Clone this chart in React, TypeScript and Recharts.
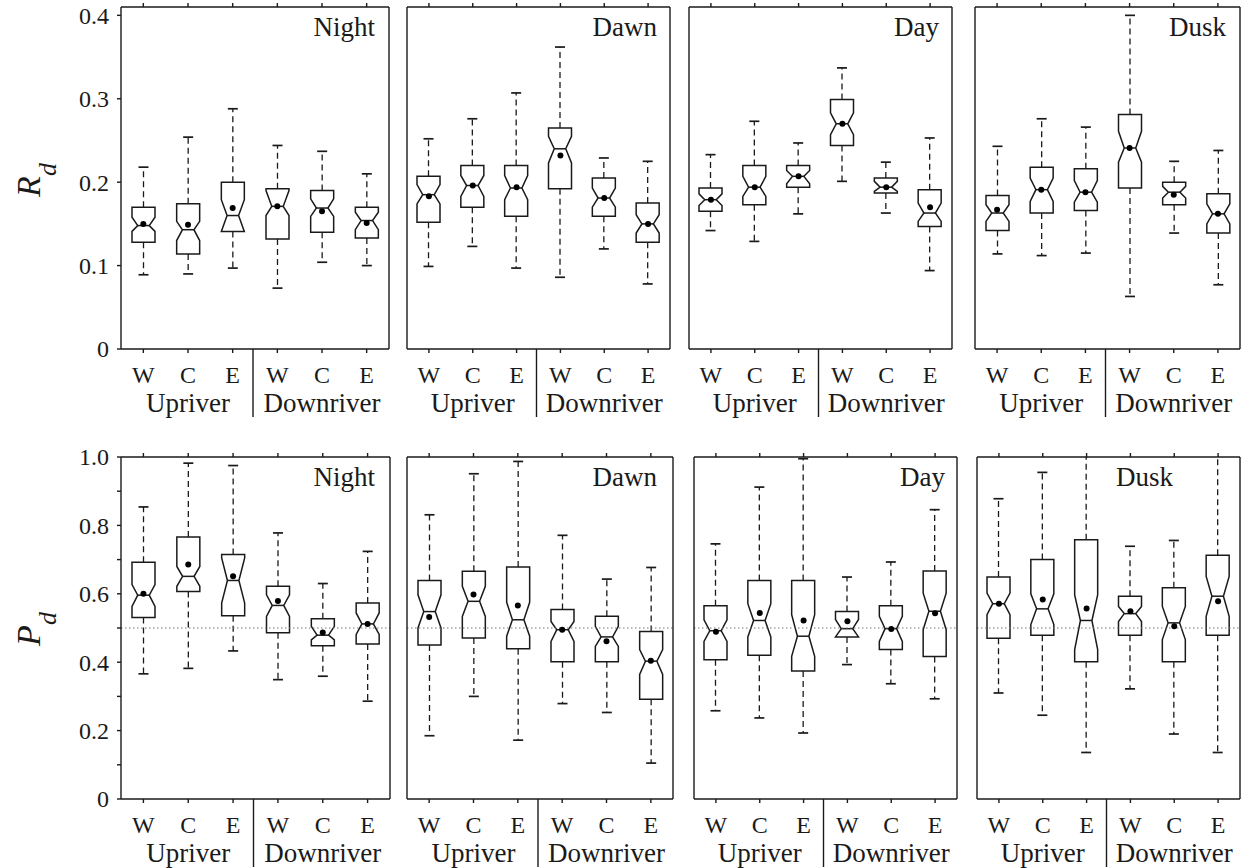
import React from "react";
import { Bar, ComposedChart, ReferenceLine, Scatter, XAxis, YAxis } from "recharts";

const sites = ["W", "C", "E", "W", "C", "E"];
const reaches = ["Upriver", "Upriver", "Upriver", "Downriver", "Downriver", "Downriver"];
const periods = ["Night", "Dawn", "Day", "Dusk"];

// each box: [min, q1, notch low, median, notch high, q3, max, mean]
const rdNight = [
  [0.089, 0.128, 0.141, 0.148, 0.158, 0.17, 0.218, 0.15],
  [0.09, 0.114, 0.13, 0.143, 0.153, 0.174, 0.254, 0.149],
  [0.097, 0.141, 0.141, 0.16, 0.179, 0.2, 0.288, 0.169],
  [0.073, 0.132, 0.16, 0.171, 0.19, 0.192, 0.244, 0.171],
  [0.104, 0.14, 0.159, 0.169, 0.18, 0.19, 0.237, 0.165],
  [0.1, 0.133, 0.143, 0.154, 0.164, 0.17, 0.21, 0.151],
];
const rdDawn = [
  [0.099, 0.152, 0.174, 0.185, 0.197, 0.207, 0.252, 0.183],
  [0.123, 0.17, 0.183, 0.196, 0.208, 0.22, 0.276, 0.196],
  [0.097, 0.159, 0.179, 0.193, 0.208, 0.22, 0.307, 0.194],
  [0.086, 0.192, 0.223, 0.24, 0.255, 0.265, 0.362, 0.232],
  [0.12, 0.159, 0.17, 0.181, 0.193, 0.205, 0.229, 0.181],
  [0.078, 0.128, 0.139, 0.15, 0.161, 0.175, 0.225, 0.15],
];
const rdDay = [
  [0.142, 0.165, 0.172, 0.179, 0.186, 0.193, 0.233, 0.179],
  [0.129, 0.173, 0.183, 0.194, 0.207, 0.22, 0.273, 0.194],
  [0.162, 0.194, 0.198, 0.207, 0.214, 0.22, 0.247, 0.207],
  [0.201, 0.244, 0.257, 0.27, 0.283, 0.299, 0.337, 0.27],
  [0.163, 0.187, 0.189, 0.194, 0.201, 0.205, 0.224, 0.194],
  [0.094, 0.147, 0.153, 0.163, 0.175, 0.191, 0.253, 0.17],
];
const rdDusk = [
  [0.114, 0.142, 0.153, 0.163, 0.173, 0.184, 0.243, 0.167],
  [0.112, 0.163, 0.177, 0.191, 0.205, 0.218, 0.276, 0.191],
  [0.115, 0.166, 0.176, 0.188, 0.202, 0.216, 0.266, 0.188],
  [0.063, 0.193, 0.224, 0.241, 0.261, 0.281, 0.4, 0.241],
  [0.139, 0.173, 0.181, 0.188, 0.195, 0.2, 0.225, 0.185],
  [0.077, 0.139, 0.15, 0.162, 0.174, 0.186, 0.238, 0.162],
];

const pdNight = [
  [0.366, 0.531, 0.563, 0.596, 0.627, 0.692, 0.854, 0.6],
  [0.382, 0.607, 0.622, 0.651, 0.68, 0.766, 0.982, 0.686],
  [0.433, 0.536, 0.573, 0.639, 0.705, 0.715, 0.975, 0.651],
  [0.349, 0.486, 0.534, 0.566, 0.597, 0.622, 0.778, 0.579],
  [0.359, 0.448, 0.465, 0.479, 0.505, 0.527, 0.63, 0.487],
  [0.286, 0.453, 0.481, 0.512, 0.544, 0.573, 0.724, 0.512],
];
const pdDawn = [
  [0.185, 0.45, 0.5, 0.548, 0.597, 0.639, 0.831, 0.532],
  [0.3, 0.471, 0.534, 0.578, 0.622, 0.666, 0.951, 0.598],
  [0.172, 0.439, 0.476, 0.524, 0.575, 0.678, 0.987, 0.566],
  [0.279, 0.401, 0.461, 0.495, 0.519, 0.554, 0.771, 0.495],
  [0.253, 0.401, 0.446, 0.474, 0.505, 0.534, 0.643, 0.461],
  [0.105, 0.292, 0.364, 0.403, 0.437, 0.49, 0.677, 0.404],
];
const pdDay = [
  [0.258, 0.407, 0.461, 0.492, 0.524, 0.565, 0.746, 0.489],
  [0.237, 0.42, 0.474, 0.522, 0.571, 0.639, 0.912, 0.544],
  [0.193, 0.374, 0.417, 0.476, 0.539, 0.639, 0.995, 0.522],
  [0.393, 0.474, 0.474, 0.498, 0.525, 0.548, 0.649, 0.52],
  [0.337, 0.437, 0.461, 0.498, 0.534, 0.565, 0.693, 0.497],
  [0.293, 0.417, 0.495, 0.549, 0.602, 0.667, 0.846, 0.543],
];
const pdDusk = [
  [0.31, 0.47, 0.539, 0.571, 0.602, 0.649, 0.878, 0.571],
  [0.245, 0.479, 0.51, 0.556, 0.6, 0.7, 0.955, 0.583],
  [0.136, 0.401, 0.437, 0.522, 0.597, 0.758, 1.04, 0.557],
  [0.322, 0.479, 0.519, 0.542, 0.563, 0.593, 0.739, 0.549],
  [0.19, 0.401, 0.466, 0.515, 0.563, 0.618, 0.756, 0.505],
  [0.136, 0.479, 0.534, 0.593, 0.651, 0.713, 1.04, 0.578],
];

const rdTicks = [0, 0.1, 0.2, 0.3, 0.4];
const pdTicks = [0, 0.1, 0.2, 0.3, 0.4, 0.5, 0.6, 0.7, 0.8, 0.9, 1.0];
const pdLabelled = [0, 0.2, 0.4, 0.6, 0.8, 1.0];

const FONT = '"Liberation Serif", "Times New Roman", Times, serif';
const INK = "#1a1a1a";
const TICK = 4;
const BOX_W = 23;
const CAP_W = 10;

const rows = [
  {
    stats: [rdNight, rdDawn, rdDay, rdDusk],
    letter: "R",
    domain: [0, 0.41],
    ticks: rdTicks,
    labelled: rdTicks,
    refY: null as number | null,
    plotTop: 7,
    plotBottom: 349,
    chartTop: 0,
    chartBottom: 432,
    titleY: 180,
    cols: [[121, 389], [407, 670], [689, 952], [975, 1240]],
    insets: [14, 13, 13, 14],
  },
  {
    stats: [pdNight, pdDawn, pdDay, pdDusk],
    letter: "P",
    domain: [0, 1],
    ticks: pdTicks,
    labelled: pdLabelled,
    refY: 0.5 as number | null,
    plotTop: 457,
    plotBottom: 799,
    chartTop: 438,
    chartBottom: 868,
    titleY: 629,
    cols: [[121, 390], [407, 673], [694, 957], [977, 1240]],
    insets: [15, 16, 12, 67],
  },
];

const toRows = (stats: number[][]) =>
  stats.map((s, i) => ({
    id: reaches[i][0] + sites[i],
    min: s[0], q1: s[1], nLo: s[2], med: s[3], nHi: s[4], q3: s[5], max: s[6], mean: s[7],
  }));

function makeBoxShape(domainMax: number) {
  return (props: any) => {
    const { x, y, width, height, payload } = props;
    if (!payload || x == null || y == null) return <g />;
    const top = Math.min(y, y + height);
    const bot = Math.max(y, y + height);
    const span = payload.max - payload.min;
    const py = (v: number) => bot - ((v - payload.min) / span) * (bot - top);
    const cx = x + width / 2;
    const l = cx - BOX_W / 2;
    const r = cx + BOX_W / 2;
    const inset = BOX_W / 4;
    const y1 = py(payload.q1);
    const y3 = py(payload.q3);
    const ym = py(payload.med);
    const yH = Math.max(py(payload.nHi), y3);
    const yL = Math.min(py(payload.nLo), y1);
    const yMax = py(Math.min(payload.max, domainMax));
    const yMin = py(payload.min);
    const d = `M${l},${y3}H${r}V${yH}L${r - inset},${ym}L${r},${yL}V${y1}H${l}V${yL}L${l + inset},${ym}L${l},${yH}Z`;
    return (
      <g>
        <line x1={cx} x2={cx} y1={y3} y2={yMax} stroke={INK} strokeWidth={1.3} strokeDasharray="6 4" />
        <line x1={cx} x2={cx} y1={y1} y2={yMin} stroke={INK} strokeWidth={1.3} strokeDasharray="6 4" />
        {payload.max <= domainMax && (
          <line x1={cx - CAP_W / 2} x2={cx + CAP_W / 2} y1={yMax} y2={yMax} stroke={INK} strokeWidth={1.7} />
        )}
        <line x1={cx - CAP_W / 2} x2={cx + CAP_W / 2} y1={yMin} y2={yMin} stroke={INK} strokeWidth={1.7} />
        <path d={d} fill="none" stroke={INK} strokeWidth={1.5} />
        <line x1={l + inset} x2={r - inset} y1={ym} y2={ym} stroke={INK} strokeWidth={1.5} />
      </g>
    );
  };
}

const meanDot = (props: any) =>
  props.cx == null ? <g /> : <circle cx={props.cx} cy={props.cy} r={3} fill="#000" />;

function Panel({ row, col }: { row: (typeof rows)[number]; col: number }) {
  const [pl, pr] = row.cols[col];
  const chartLeft = col === 0 ? 0 : pl - 14;
  const chartRight = col === 3 ? 1244 : pr + 8;
  const width = chartRight - chartLeft;
  const height = row.chartBottom - row.chartTop;
  const margin = {
    left: pl - chartLeft - 1,
    right: chartRight - pr - 1,
    top: row.plotTop - row.chartTop - 1,
    bottom: row.chartBottom - row.plotBottom - 1,
  };
  const data = toRows(row.stats[col]);
  const axisY = row.plotBottom - row.chartTop;
  const topY = row.plotTop - row.chartTop;
  const axisStyle = { stroke: INK, strokeWidth: 1.4 };

  const siteTick = (props: any) => {
    const { x, payload } = props;
    const i = props.index ?? payload?.index ?? 0;
    const half = payload?.offset ?? 22;
    return (
      <g>
        <text x={x} y={axisY + 34} textAnchor="middle" fontFamily={FONT} fontSize={24} fill={INK}>
          {sites[i]}
        </text>
        {(i === 1 || i === 4) && (
          <text x={x} y={axisY + 63} textAnchor="middle" fontFamily={FONT} fontSize={27} fill={INK}>
            {reaches[i]}
          </text>
        )}
        {i === 2 && (
          <line x1={x + half - 2} x2={x + half - 2} y1={axisY} y2={axisY + 68} stroke={INK} strokeWidth={1.4} />
        )}
      </g>
    );
  };

  const periodTick = (props: any) => {
    const i = props.index ?? props.payload?.index ?? 0;
    if (i !== 5) return <g />;
    return (
      <text x={pr - chartLeft - row.insets[col]} y={topY + 29} textAnchor="end" fontFamily={FONT} fontSize={27} fill={INK}>
        {periods[col]}
      </text>
    );
  };

  const valueTick = (props: any) => {
    const v = props.payload?.value;
    if (!row.labelled.some((t) => Math.abs(t - v) < 1e-6)) return <g />;
    return (
      <text x={props.x} y={props.y} dy="0.35em" textAnchor="end" fontFamily={FONT} fontSize={24} fill={INK}>
        {v === 0 ? "0" : v.toFixed(1)}
      </text>
    );
  };

  const titleLabel = () => (
    <text
      x={40}
      y={row.titleY - row.chartTop}
      transform={`rotate(-90 40 ${row.titleY - row.chartTop})`}
      textAnchor="middle"
      fontFamily={FONT}
      fill={INK}
      fontStyle="italic"
    >
      <tspan fontSize={34}>{row.letter}</tspan>
      <tspan fontSize={26} dy={16}>d</tspan>
    </text>
  );

  return (
    <div style={{ position: "absolute", left: chartLeft, top: row.chartTop }}>
      <ComposedChart width={width} height={height} data={data} margin={margin}>
        <XAxis xAxisId="b" dataKey="id" height={1} interval={0} tickSize={TICK} tickMargin={2}
          axisLine={axisStyle} tickLine={axisStyle} tick={siteTick} />
        <XAxis xAxisId="t" dataKey="id" orientation="top" height={1} interval={0} tickSize={TICK}
          axisLine={axisStyle} tickLine={axisStyle} tick={periodTick} />
        <YAxis yAxisId="l" type="number" domain={row.domain} ticks={row.ticks} allowDataOverflow width={1}
          interval={0} tickSize={TICK} tickMargin={8} axisLine={axisStyle} tickLine={axisStyle}
          tick={col === 0 ? valueTick : false} label={col === 0 ? titleLabel : undefined} />
        <YAxis yAxisId="r" orientation="right" type="number" domain={row.domain} ticks={row.ticks} allowDataOverflow
          width={1} interval={0} tickSize={TICK} axisLine={axisStyle} tickLine={axisStyle} tick={false} />
        {row.refY != null && (
          <ReferenceLine xAxisId="b" yAxisId="l" y={row.refY} stroke="#777" strokeWidth={1} strokeDasharray="1.5 2.5" />
        )}
        <Bar xAxisId="b" yAxisId="l" dataKey={(d: any) => [d.min, d.max]} barSize={BOX_W}
          shape={makeBoxShape(row.domain[1])} isAnimationActive={false} />
        <Scatter xAxisId="b" yAxisId="l" dataKey="mean" shape={meanDot} isAnimationActive={false} />
      </ComposedChart>
    </div>
  );
}

export default function App() {
  return (
    <div style={{ position: "absolute", left: 0, top: 0, width: 1244, height: 868, background: "#fff" }}>
      {rows.map((row, r) => [0, 1, 2, 3].map((c) => <Panel key={`${r}-${c}`} row={row} col={c} />))}
    </div>
  );
}
